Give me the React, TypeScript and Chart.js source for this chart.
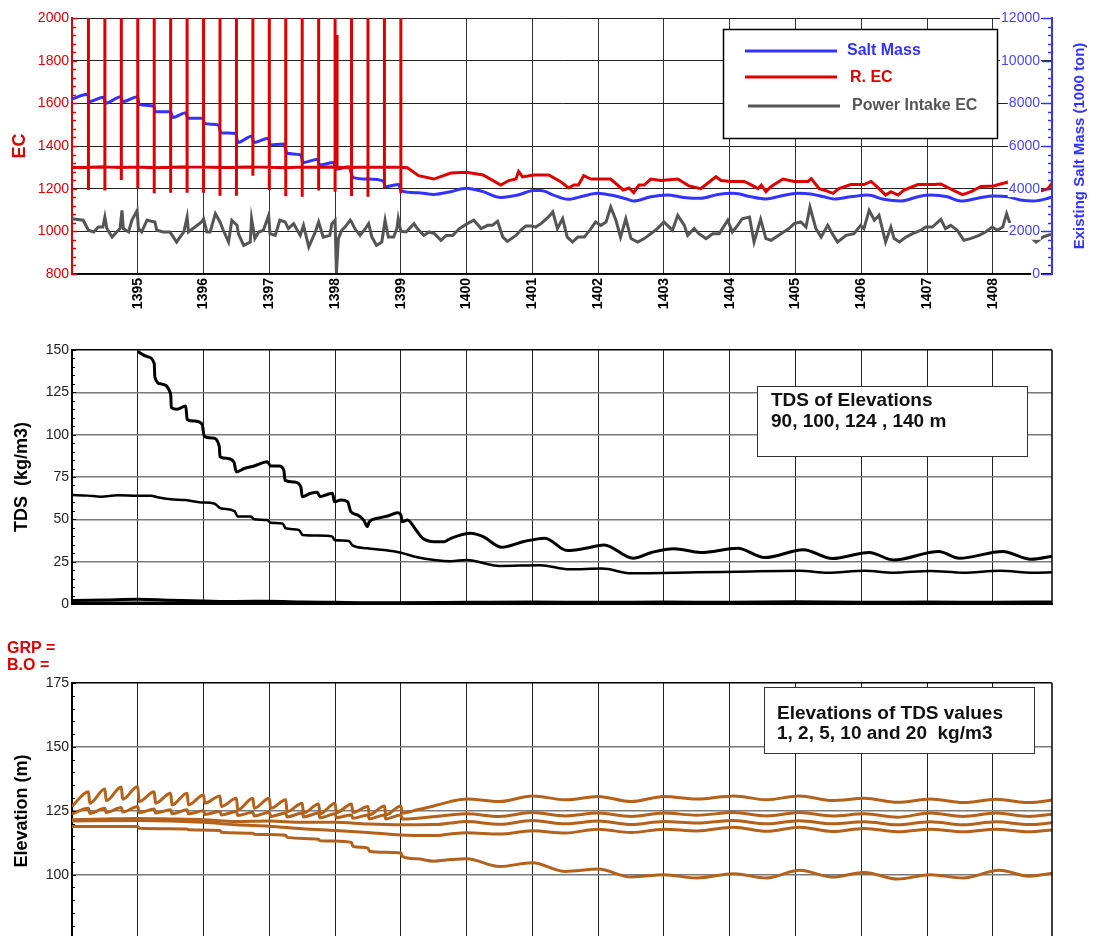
import React, { useEffect, useRef } from "react";
import { Chart, registerables } from "chart.js";

Chart.register(...registerables);

const FONT = '"Liberation Sans", Arial, Helvetica, sans-serif';
Chart.defaults.font.family = FONT;

// ---------- shared x axis (solar-hijri years) ----------
const YEAR_TICKS = [1395, 1396, 1397, 1398, 1399, 1400, 1401, 1402, 1403, 1404, 1405, 1406, 1407, 1408];
const X_MIN = 1394;
const X_MAX = 1408.9;

// ---------- top panel ----------
// Existing salt mass (1000 ton) – right axis
const SALT_MASS: [number, number][] = [
  [1394.0, 8200], [1394.24, 8420], [1394.26, 8080], [1394.48, 8280], [1394.51, 8000], [1394.74, 8310], [1394.77, 8080],
  [1395.0, 8310], [1395.02, 7950], [1395.24, 7880], [1395.27, 7610], [1395.5, 7600], [1395.53, 7340], [1395.73, 7560],
  [1395.76, 7300], [1395.99, 7300], [1396.01, 7060], [1396.23, 6980], [1396.26, 6620], [1396.49, 6590], [1396.52, 6160],
  [1396.74, 6470], [1396.76, 6160], [1396.99, 6360], [1397.01, 6050], [1397.22, 6090], [1397.27, 5660], [1397.48, 5580],
  [1397.51, 5220], [1397.74, 5380], [1397.76, 5110], [1397.98, 5230], [1398.01, 4910], [1398.21, 5030], [1398.27, 4530],
  [1398.5, 4450], [1398.73, 4360], [1398.77, 4090], [1398.97, 4200], [1399.0, 3910], [1399.26, 3810], [1399.5, 3730],
  [1399.76, 3860], [1399.99, 4020], [1400.25, 3860], [1400.52, 3590], [1400.78, 3700], [1401.02, 3910], [1401.13, 3910],
  [1401.32, 3700], [1401.54, 3500], [1401.78, 3660], [1401.99, 3780], [1402.19, 3700], [1402.45, 3500], [1402.54, 3420],
  [1402.8, 3620], [1403.05, 3700], [1403.3, 3590], [1403.56, 3550], [1403.82, 3730], [1404.06, 3780], [1404.32, 3620],
  [1404.55, 3520], [1404.78, 3660], [1405.04, 3780], [1405.23, 3750], [1405.43, 3620], [1405.59, 3520], [1405.84, 3620],
  [1406.1, 3700], [1406.34, 3500], [1406.6, 3420], [1406.86, 3620], [1407.05, 3700], [1407.31, 3620], [1407.51, 3420],
  [1407.77, 3550], [1408.01, 3660], [1408.23, 3620], [1408.42, 3470], [1408.62, 3420], [1408.84, 3550], [1408.91, 3620],
];

// R. EC – base line
const R_EC: [number, number][] = [
  [1394.0, 1299], [1394.25, 1300], [1394.5, 1302], [1394.75, 1299], [1395.0, 1301], [1395.25, 1298], [1395.5, 1300],
  [1395.75, 1302], [1396.0, 1301], [1396.25, 1299], [1396.5, 1300], [1396.75, 1302], [1397.0, 1300], [1397.25, 1298],
  [1397.5, 1301], [1397.75, 1300], [1398.0, 1302], [1398.03, 1300], [1398.25, 1299], [1398.5, 1301], [1398.75, 1300],
  [1399.0, 1300], [1399.1, 1298], [1399.27, 1261], [1399.5, 1245], [1399.76, 1273], [1400.0, 1277], [1400.25, 1264],
  [1400.52, 1217], [1400.64, 1238], [1400.75, 1245], [1400.79, 1281], [1400.85, 1255], [1401.02, 1264], [1401.25, 1264],
  [1401.43, 1233], [1401.55, 1203], [1401.63, 1217], [1401.7, 1217], [1401.78, 1261], [1401.89, 1245], [1402.19, 1245],
  [1402.27, 1224], [1402.38, 1194], [1402.47, 1203], [1402.54, 1181], [1402.62, 1217], [1402.7, 1217], [1402.8, 1245],
  [1402.95, 1238], [1403.21, 1245], [1403.38, 1213], [1403.56, 1200], [1403.79, 1256], [1403.87, 1238], [1404.02, 1234],
  [1404.22, 1234], [1404.32, 1219], [1404.43, 1200], [1404.48, 1217], [1404.55, 1186], [1404.63, 1210], [1404.81, 1245],
  [1404.98, 1234], [1405.19, 1234], [1405.24, 1247], [1405.36, 1200], [1405.46, 1191], [1405.57, 1178], [1405.66, 1200],
  [1405.84, 1219], [1406.04, 1219], [1406.15, 1234], [1406.25, 1206], [1406.37, 1170], [1406.45, 1186], [1406.56, 1170],
  [1406.65, 1193], [1406.86, 1219], [1407.11, 1219], [1407.21, 1222], [1407.41, 1191], [1407.54, 1172], [1407.67, 1186],
  [1407.82, 1210], [1408.01, 1213], [1408.23, 1231], [1408.27, 1210], [1408.58, 1175], [1408.84, 1200], [1408.91, 1231],
];

// R. EC – quarterly spikes: [time, high, low]
const R_EC_SPIKES: [number, number, number][] = [
  [1394.25, 2100, 1194], [1394.5, 2100, 1191], [1394.75, 2100, 1241], [1395.0, 2100, 1202], [1395.25, 2100, 1178],
  [1395.5, 2100, 1181], [1395.75, 2100, 1181], [1396.0, 2100, 1181], [1396.25, 2100, 1167], [1396.5, 2100, 1167],
  [1396.75, 2100, 1260], [1397.0, 2100, 1194], [1397.25, 2100, 1165], [1397.5, 2100, 1162], [1397.75, 2100, 1191],
  [1398.0, 2100, 1186], [1398.03, 1920, 1300], [1398.25, 2100, 1166], [1398.5, 2100, 1162], [1398.75, 2100, 1202],
  [1399.0, 2100, 1178],
];

// Power intake EC
const POWER_EC: [number, number][] = [
  [1394.0, 1059], [1394.17, 1052], [1394.25, 1005], [1394.33, 997], [1394.4, 1020], [1394.47, 1020], [1394.5, 1067],
  [1394.53, 1013], [1394.61, 973], [1394.68, 997], [1394.73, 1013], [1394.76, 1098], [1394.78, 1013], [1394.86, 997],
  [1394.91, 1052], [1394.99, 1098], [1395.01, 1013], [1395.06, 997], [1395.14, 1052], [1395.26, 1044], [1395.29, 1005],
  [1395.39, 997], [1395.49, 997], [1395.59, 950], [1395.7, 997], [1395.75, 1067], [1395.77, 997], [1395.87, 1020],
  [1395.97, 1044], [1396.0, 1059], [1396.05, 997], [1396.1, 997], [1396.18, 1083], [1396.25, 1044], [1396.3, 1005],
  [1396.38, 950], [1396.43, 1052], [1396.51, 1028], [1396.53, 989], [1396.61, 934], [1396.71, 950], [1396.73, 1059],
  [1396.78, 966], [1396.84, 997], [1396.91, 1005], [1396.99, 1075], [1397.01, 989], [1397.09, 981], [1397.16, 1052],
  [1397.24, 1044], [1397.29, 1013], [1397.37, 1036], [1397.47, 981], [1397.52, 1028], [1397.6, 927], [1397.7, 997],
  [1397.75, 1044], [1397.82, 973], [1397.92, 981], [1397.95, 1036], [1398.0, 1052], [1398.02, 805], [1398.05, 966],
  [1398.1, 1005], [1398.15, 1020], [1398.23, 1052], [1398.25, 1044], [1398.3, 1013], [1398.38, 981], [1398.46, 1013],
  [1398.51, 1036], [1398.56, 973], [1398.63, 934], [1398.71, 950], [1398.76, 1052], [1398.81, 973], [1398.89, 973],
  [1398.94, 1013], [1398.96, 1059], [1399.0, 1000], [1399.08, 997], [1399.2, 1036], [1399.25, 1013], [1399.35, 981],
  [1399.43, 997], [1399.51, 989], [1399.61, 958], [1399.69, 981], [1399.79, 981], [1399.89, 1013], [1400.01, 1036],
  [1400.11, 1052], [1400.22, 1013], [1400.32, 1028], [1400.39, 1028], [1400.47, 1047], [1400.55, 973], [1400.62, 953],
  [1400.75, 981], [1400.82, 1005], [1400.9, 1025], [1400.98, 1025], [1401.05, 1020], [1401.13, 1036], [1401.23, 1063],
  [1401.31, 1091], [1401.38, 1013], [1401.46, 1059], [1401.53, 973], [1401.61, 950], [1401.69, 973], [1401.79, 973],
  [1401.89, 1013], [1401.96, 1044], [1402.04, 1028], [1402.12, 1044], [1402.19, 1114], [1402.27, 1052], [1402.34, 973],
  [1402.42, 1059], [1402.5, 966], [1402.6, 950], [1402.7, 966], [1402.8, 989], [1402.9, 1013], [1403.0, 1044],
  [1403.08, 1020], [1403.13, 1005], [1403.21, 1075], [1403.31, 1028], [1403.36, 981], [1403.46, 1013], [1403.53, 989],
  [1403.64, 966], [1403.74, 989], [1403.84, 989], [1403.97, 1052], [1404.04, 997], [1404.12, 1028], [1404.19, 1059],
  [1404.3, 1067], [1404.37, 950], [1404.47, 1056], [1404.55, 966], [1404.63, 958], [1404.78, 989], [1404.9, 1013],
  [1404.98, 1036], [1405.08, 1044], [1405.16, 1020], [1405.22, 1114], [1405.31, 1013], [1405.39, 973], [1405.49, 1028],
  [1405.56, 989], [1405.64, 950], [1405.77, 981], [1405.89, 989], [1405.99, 1028], [1406.04, 1013], [1406.12, 1098],
  [1406.2, 1052], [1406.27, 1075], [1406.37, 950], [1406.45, 1020], [1406.5, 966], [1406.58, 950], [1406.68, 973],
  [1406.78, 989], [1406.91, 1005], [1406.98, 1020], [1407.08, 1020], [1407.21, 1056], [1407.28, 1013], [1407.36, 1028],
  [1407.46, 1005], [1407.56, 958], [1407.66, 966], [1407.79, 981], [1407.89, 997], [1407.99, 1020], [1408.07, 1005],
  [1408.15, 1020], [1408.21, 1083], [1408.27, 1028], [1408.58, 973], [1408.66, 950], [1408.76, 973], [1408.86, 984],
  [1408.93, 984],
];

// ---------- middle panel: TDS (kg/m3) at elevations ----------
const TDS_90: [number, number][] = [
  [1395.0, 149], [1395.15, 146], [1395.25, 142], [1395.26, 134], [1395.35, 130], [1395.5, 124], [1395.51, 116],
  [1395.6, 115], [1395.73, 117], [1395.75, 109], [1395.86, 108], [1395.98, 106], [1396.01, 99], [1396.14, 98],
  [1396.24, 93], [1396.25, 87], [1396.36, 86], [1396.46, 84], [1396.5, 78], [1396.62, 80], [1396.77, 81.5],
  [1396.97, 84], [1397.02, 81.5], [1397.15, 81.5], [1397.22, 79], [1397.24, 73], [1397.38, 72], [1397.48, 69],
  [1397.5, 63.4], [1397.63, 65.4], [1397.73, 66], [1397.77, 63.4], [1397.86, 64.4], [1397.96, 65.4], [1397.99, 60.4],
  [1398.09, 61.4], [1398.19, 60.4], [1398.24, 54.5], [1398.34, 52.6], [1398.44, 49.2], [1398.49, 45.7], [1398.52, 48.6],
  [1398.64, 50.6], [1398.8, 52], [1398.95, 53.9], [1399.0, 52.6], [1399.02, 48.6], [1399.1, 49.6], [1399.23, 43.7],
  [1399.33, 38.8], [1399.51, 36.8], [1399.66, 36.8], [1399.76, 38.8], [1400.06, 41.8], [1400.25, 39.8], [1400.53, 33.5],
  [1400.87, 36.9], [1401.19, 38.9], [1401.53, 31.6], [1401.81, 32.9], [1402.09, 34.9], [1402.53, 27.0], [1402.81, 30.4],
  [1403.15, 32.7], [1403.56, 30.4], [1404.12, 32.9], [1404.53, 27.4], [1405.12, 32.0], [1405.56, 26.8], [1406.12, 30.4],
  [1406.49, 26.0], [1407.18, 31.0], [1407.49, 27.0], [1408.15, 31.0], [1408.58, 26.4], [1408.93, 28.4],
];
const TDS_100: [number, number][] = [
  [1394.0, 64.4], [1394.24, 64.0], [1394.44, 63.4], [1394.69, 64.2], [1395.0, 64.0], [1395.2, 64.0], [1395.3, 63.0],
  [1395.5, 61.8], [1395.73, 61.4], [1395.96, 60.0], [1396.16, 59.4], [1396.26, 56.5], [1396.47, 54.9], [1396.52, 51.6],
  [1396.72, 51.6], [1396.77, 50.0], [1396.97, 49.6], [1397.02, 48.0], [1397.2, 47.6], [1397.25, 44.7], [1397.45, 43.7],
  [1397.51, 40.7], [1397.73, 40.4], [1397.96, 39.8], [1397.99, 37.8], [1398.21, 37.2], [1398.26, 34.8], [1398.49, 32.9],
  [1398.75, 31.9], [1399.0, 30.3], [1399.25, 27.6], [1399.51, 26.0], [1399.76, 25.3], [1400.0, 26.0], [1400.5, 22.5],
  [1401.12, 22.9], [1401.56, 20.5], [1402.06, 20.9], [1402.5, 18.1], [1403.5, 18.7], [1404.12, 19.1], [1405.06, 19.7],
  [1405.49, 18.5], [1406.05, 19.7], [1406.49, 18.5], [1407.05, 19.5], [1407.55, 18.5], [1408.11, 19.7], [1408.61, 18.5],
  [1408.93, 18.7],
];
const TDS_124: [number, number][] = [
  [1394.0, 2.0], [1394.5, 2.4], [1395.0, 2.8], [1395.5, 2.2], [1396.0, 1.8], [1396.5, 1.5], [1397.0, 1.6], [1397.5, 1.2],
  [1398.0, 1.0], [1398.5, 0.8], [1399.0, 0.8], [1400.0, 1.0], [1401.0, 1.2], [1402.0, 1.0], [1403.0, 1.2], [1404.0, 1.0],
  [1405.0, 1.3], [1406.0, 1.0], [1407.0, 1.2], [1408.0, 1.0], [1408.93, 1.2],
];
const TDS_140: [number, number][] = [
  [1394.0, 0.5], [1396.0, 0.4], [1398.0, 0.3], [1400.0, 0.3], [1402.0, 0.3], [1404.0, 0.3], [1406.0, 0.3], [1408.93, 0.3],
];

// ---------- bottom panel: elevation (m) of TDS values ----------
const ELEV_TDS1: [number, number][] = [
  [1394.0, 126.7], [1394.25, 132.5], [1394.27, 128.0], [1394.5, 133.5], [1394.52, 129.0], [1394.75, 134.3], [1394.77, 129.5],
  [1395.0, 134.5], [1395.02, 128.6], [1395.25, 132.5], [1395.27, 128.0], [1395.5, 131.9], [1395.52, 127.3], [1395.75, 131.9],
  [1395.77, 127.3], [1396.0, 131.2], [1396.02, 128.0], [1396.25, 130.8], [1396.27, 126.7], [1396.5, 129.9], [1396.52, 125.4],
  [1396.75, 129.9], [1396.77, 126.0], [1397.0, 129.9], [1397.02, 126.0], [1397.25, 129.3], [1397.27, 124.7], [1397.5, 128.0],
  [1397.52, 124.1], [1397.75, 127.7], [1397.77, 123.8], [1398.0, 128.0], [1398.02, 124.3], [1398.25, 127.7], [1398.27, 124.3],
  [1398.5, 126.7], [1398.52, 123.4], [1398.75, 126.9], [1398.77, 123.4], [1399.0, 126.9], [1399.02, 124.1], [1399.25, 125.4],
  [1399.5, 126.9], [1399.75, 128.6], [1400.0, 129.6], [1400.5, 128.6], [1401.0, 130.8], [1401.5, 129.3], [1402.0, 130.6],
  [1402.5, 128.6], [1403.0, 130.6], [1403.5, 129.6], [1404.06, 130.8], [1404.56, 129.3], [1405.06, 130.8], [1405.56, 129.0],
  [1406.05, 129.9], [1406.55, 128.3], [1407.05, 129.6], [1407.55, 128.2], [1408.05, 129.5], [1408.55, 128.2], [1408.93, 129.3],
];
const ELEV_TDS2: [number, number][] = [
  [1394.0, 123.8], [1394.25, 126.0], [1394.27, 124.0], [1394.5, 126.0], [1394.52, 124.3], [1394.75, 126.3], [1394.77, 124.5],
  [1395.0, 126.7], [1395.02, 124.3], [1395.25, 125.7], [1395.27, 124.1], [1395.5, 125.4], [1395.52, 123.8], [1395.75, 125.4],
  [1395.77, 123.8], [1396.0, 125.0], [1396.02, 123.6], [1396.25, 124.7], [1396.27, 123.4], [1396.5, 124.7], [1396.52, 123.2],
  [1396.75, 124.4], [1396.77, 123.0], [1397.0, 124.4], [1397.02, 122.8], [1397.25, 124.1], [1397.27, 122.6], [1397.5, 124.1],
  [1397.52, 122.6], [1397.75, 124.1], [1397.77, 122.3], [1398.0, 123.8], [1398.02, 122.3], [1398.25, 123.4], [1398.27, 122.1],
  [1398.5, 123.4], [1398.52, 121.8], [1398.75, 123.4], [1398.77, 121.8], [1399.0, 123.4], [1399.02, 121.8], [1399.75, 123.4],
  [1400.0, 123.8], [1400.5, 122.8], [1401.0, 124.3], [1401.5, 123.0], [1402.0, 124.1], [1402.5, 122.8], [1403.0, 124.1],
  [1403.5, 123.3], [1404.06, 124.3], [1404.56, 123.0], [1405.06, 124.3], [1405.56, 123.0], [1406.05, 123.8], [1406.55, 122.5],
  [1407.05, 124.1], [1407.55, 122.8], [1408.05, 124.1], [1408.55, 122.8], [1408.93, 123.7],
];
const ELEV_TDS5: [number, number][] = [
  [1394.0, 121.5], [1394.5, 121.8], [1395.0, 122.0], [1395.5, 121.8], [1396.0, 121.5], [1396.5, 120.8], [1397.0, 121.0],
  [1397.5, 120.5], [1398.0, 120.5], [1398.5, 119.8], [1399.0, 119.5], [1399.5, 119.6], [1399.75, 120.2], [1400.0, 120.8],
  [1400.5, 119.7], [1401.0, 121.2], [1401.5, 119.9], [1402.0, 121.0], [1402.5, 119.6], [1403.0, 120.8], [1403.5, 120.2],
  [1404.06, 121.2], [1404.56, 119.9], [1405.06, 121.1], [1405.56, 119.9], [1406.05, 120.7], [1406.55, 119.5], [1407.05, 120.7],
  [1407.55, 119.5], [1408.05, 120.7], [1408.55, 119.6], [1408.93, 120.4],
];
const ELEV_TDS10: [number, number][] = [
  [1394.0, 121.0], [1395.0, 121.2], [1396.0, 120.5], [1396.5, 119.5], [1397.0, 119.0], [1397.5, 118.0], [1398.0, 117.3],
  [1398.5, 116.5], [1399.0, 115.5], [1399.5, 115.3], [1399.75, 115.9], [1400.0, 116.4], [1400.5, 115.9], [1401.0, 117.2],
  [1401.5, 116.3], [1402.0, 117.8], [1402.5, 116.5], [1403.0, 117.8], [1403.5, 117.1], [1404.06, 118.6], [1404.56, 117.0],
  [1405.06, 118.6], [1405.56, 116.9], [1406.05, 118.1], [1406.55, 116.8], [1407.05, 117.8], [1407.55, 116.8], [1408.05, 117.8],
  [1408.55, 116.8], [1408.93, 117.6],
];
const ELEV_TDS20: [number, number][] = [
  [1394.0, 118.9], [1395.0, 118.9], [1395.02, 118.2], [1395.75, 117.9], [1395.77, 117.6], [1396.25, 117.3], [1396.27, 116.6],
  [1396.75, 116.2], [1396.77, 115.8], [1397.25, 115.4], [1397.27, 114.6], [1397.75, 113.9], [1397.77, 113.3], [1398.0, 113.2],
  [1398.25, 112.6], [1398.27, 111.1], [1398.5, 110.4], [1398.52, 109.2], [1398.75, 108.8], [1399.0, 108.5], [1399.02, 107.2],
  [1399.25, 106.2], [1399.5, 105.3], [1399.76, 105.9], [1400.0, 106.2], [1400.5, 103.2], [1401.0, 104.7], [1401.5, 101.3],
  [1402.0, 102.2], [1402.5, 99.1], [1403.0, 100.0], [1403.5, 98.7], [1404.06, 100.4], [1404.56, 98.7], [1405.06, 101.7],
  [1405.56, 99.1], [1406.05, 100.9], [1406.55, 98.3], [1407.05, 100.0], [1407.55, 98.7], [1408.1, 101.7], [1408.55, 99.4],
  [1408.93, 100.7],
];

// ---------- styles ----------
const RED = "#dd0000";
const BLUE = "#3333ff";
const BLUE_TXT = "#4646ff";
const GRAY = "#555555";
const BROWN = "#b4611b";

const pts = (arr: [number, number][]) => arr.map(([x, y]) => ({ x, y }));

function recPoints() {
  const out: { x: number; y: number }[] = [];
  for (const [t, v] of R_EC) {
    out.push({ x: t, y: v });
    const s = R_EC_SPIKES.find((k) => k[0] === t);
    if (s) {
      out.push({ x: t, y: s[1] });
      out.push({ x: t, y: s[2] });
      out.push({ x: t, y: v });
    }
  }
  return out;
}

// ---------- plugins ----------
const innerTicks = {
  id: "innerTicks",
  afterDatasetsDraw(chart: any, _a: any, opts: any) {
    const ctx = chart.ctx;
    const specs = opts.specs || [];
    ctx.save();
    for (const s of specs) {
      const sc = chart.scales[s.axis];
      if (!sc) continue;
      ctx.strokeStyle = s.color;
      ctx.lineWidth = s.width;
      const x0 = s.side === "left" ? chart.chartArea.left : chart.chartArea.right;
      const dir = s.side === "left" ? 1 : -1;
      const n = Math.round((s.max - s.min) / s.step);
      for (let i = 0; i <= n; i++) {
        const v = s.min + i * s.step;
        const isMajor = Math.abs(v / s.major - Math.round(v / s.major)) < 1e-6;
        const len = isMajor ? s.majorLen : s.minorLen;
        const y = Math.round(sc.getPixelForValue(v)) + 0.5;
        if (y < chart.chartArea.top - 1 || y > chart.chartArea.bottom + 1) continue;
        ctx.beginPath();
        ctx.moveTo(x0, y);
        ctx.lineTo(x0 + dir * len, y);
        ctx.stroke();
      }
    }
    ctx.restore();
  },
};

const overlay = {
  id: "overlay",
  afterDraw(chart: any, _a: any, opts: any) {
    const ctx = chart.ctx;
    const items = opts.items || [];
    for (const it of items) {
      ctx.save();
      if (it.kind === "box") {
        ctx.fillStyle = "#ffffff";
        ctx.fillRect(it.x, it.y, it.w, it.h);
        ctx.strokeStyle = it.color;
        ctx.lineWidth = it.lw;
        ctx.strokeRect(it.x + 0.5, it.y + 0.5, it.w, it.h);
      } else if (it.kind === "line") {
        ctx.strokeStyle = it.color;
        ctx.lineWidth = it.lw;
        ctx.beginPath();
        ctx.moveTo(it.x1, it.y1);
        ctx.lineTo(it.x2, it.y2);
        ctx.stroke();
      } else if (it.kind === "rightFrame") {
        const a = chart.chartArea;
        ctx.strokeStyle = it.color;
        ctx.lineWidth = it.lw;
        ctx.beginPath();
        ctx.moveTo(a.right, a.top);
        ctx.lineTo(a.right, a.bottom);
        ctx.stroke();
      } else if (it.kind === "text") {
        ctx.font = it.font;
        ctx.fillStyle = it.color;
        ctx.textAlign = it.align || "left";
        ctx.textBaseline = it.baseline || "middle";
        ctx.translate(it.x, it.y);
        if (it.rot) ctx.rotate(it.rot);
        ctx.fillText(it.text, 0, 0);
      }
      ctx.restore();
    }
  },
};

const xGridTicks = (s: any) => {
  s.ticks = YEAR_TICKS.map((v) => ({ value: v }));
};

function topConfig(): any {
  return {
    type: "line",
    data: {
      datasets: [
        { label: "R. EC", data: recPoints(), borderColor: RED, borderWidth: 3, pointRadius: 0, yAxisID: "y", tension: 0 },
        {
          label: "Salt Mass",
          data: pts(SALT_MASS),
          borderColor: BLUE,
          borderWidth: 3,
          pointRadius: 0,
          yAxisID: "y2",
          cubicInterpolationMode: "monotone",
        },
        { label: "Power Intake EC", data: pts(POWER_EC), borderColor: GRAY, borderWidth: 3, pointRadius: 0, yAxisID: "y", tension: 0 },
      ],
    },
    plugins: [innerTicks, overlay],
    options: {
      animation: false,
      responsive: false,
      maintainAspectRatio: false,
      events: [],
      layout: { padding: { top: 18, left: 0, right: 0, bottom: 0 } },
      plugins: {
        legend: { display: false },
        tooltip: { enabled: false },
        innerTicks: {
          specs: [
            { axis: "y", side: "left", min: 800, max: 2000, step: 40, major: 200, minorLen: 4, majorLen: 5, color: RED, width: 1.5 },
            { axis: "y2", side: "right", min: 0, max: 12000, step: 400, major: 2000, minorLen: 4, majorLen: 10, color: BLUE, width: 1.5 },
          ],
        },
        overlay: {
          items: [
            { kind: "box", x: 723, y: 29, w: 274, h: 109, color: "#000", lw: 1.5 },
            { kind: "line", x1: 745, y1: 51, x2: 837, y2: 51, color: BLUE, lw: 3 },
            { kind: "text", text: "Salt Mass", x: 847, y: 51, font: `bold 16px ${FONT}`, color: BLUE },
            { kind: "line", x1: 745, y1: 77, x2: 837, y2: 77, color: RED, lw: 3 },
            { kind: "text", text: "R. EC", x: 850, y: 78, font: `bold 16px ${FONT}`, color: RED },
            { kind: "line", x1: 748, y1: 106, x2: 840, y2: 106, color: GRAY, lw: 3 },
            { kind: "text", text: "Power Intake EC", x: 852, y: 106, font: `bold 16px ${FONT}`, color: GRAY },
            { kind: "text", text: "EC", x: 20, y: 146, rot: -Math.PI / 2, align: "center", font: `bold 18px ${FONT}`, color: RED },
            {
              kind: "text",
              text: "Existing Salt Mass (1000 ton)",
              x: 1080,
              y: 146,
              rot: -Math.PI / 2,
              align: "center",
              font: `bold 15px ${FONT}`,
              color: BLUE,
            },
          ],
        },
      },
      scales: {
        x: {
          type: "linear",
          min: X_MIN,
          max: X_MAX,
          afterBuildTicks: xGridTicks,
          afterFit: (s: any) => {
            s.height = 46;
          },
          grid: { color: "#333", lineWidth: 1, drawTicks: false },
          border: { color: "#000", width: 1.5 },
          ticks: {
            autoSkip: false,
            minRotation: 90,
            maxRotation: 90,
            padding: 4,
            color: "#000",
            font: { size: 14, weight: "bold", family: FONT },
            callback: (v: any) => String(v),
          },
        },
        y: {
          position: "left",
          min: 800,
          max: 2000,
          afterFit: (s: any) => {
            s.width = 72;
          },
          ticks: { stepSize: 200, color: RED, padding: 3, font: { size: 14, family: FONT }, callback: (v: any) => String(v) },
          grid: { color: "#222", lineWidth: 1, drawTicks: false },
          border: { color: RED, width: 2 },
        },
        y2: {
          position: "right",
          min: 0,
          max: 12000,
          afterFit: (s: any) => {
            s.width = 41;
          },
          ticks: {
            stepSize: 2000,
            mirror: true,
            padding: -12,
            color: BLUE_TXT,
            font: { size: 14, family: FONT },
            showLabelBackdrop: true,
            backdropColor: "#ffffff",
            backdropPadding: { top: 0, bottom: 0, left: 1, right: 1 },
            z: 1,
            callback: (v: any) => String(v),
          },
          grid: { display: false, drawTicks: false },
          border: { color: BLUE, width: 2 },
        },
      },
    },
  };
}

function lowerConfig(kind: "tds" | "elev"): any {
  const isTds = kind === "tds";
  const datasets = isTds
    ? [
        { label: "90 m", data: pts(TDS_90), borderColor: "#000", borderWidth: 3, pointRadius: 0, cubicInterpolationMode: "monotone" },
        { label: "100 m", data: pts(TDS_100), borderColor: "#000", borderWidth: 2.5, pointRadius: 0, cubicInterpolationMode: "monotone" },
        { label: "124 m", data: pts(TDS_124), borderColor: "#000", borderWidth: 3, pointRadius: 0, cubicInterpolationMode: "monotone" },
        { label: "140 m", data: pts(TDS_140), borderColor: "#000", borderWidth: 3.5, pointRadius: 0, cubicInterpolationMode: "monotone" },
      ]
    : [ELEV_TDS1, ELEV_TDS2, ELEV_TDS5, ELEV_TDS10, ELEV_TDS20].map((a, i) => ({
        label: ["1", "2", "5", "10", "20"][i] + " kg/m3",
        data: pts(a),
        borderColor: BROWN,
        borderWidth: 3,
        pointRadius: 0,
        cubicInterpolationMode: "monotone",
      }));

  const yMin = isTds ? 0 : 75;
  const yMax = isTds ? 150 : 175;
  const items = isTds
    ? [
        { kind: "rightFrame", color: "#000", lw: 1.5 },
        { kind: "box", x: 757, y: 56, w: 270, h: 70, color: "#333", lw: 1 },
        { kind: "text", text: "TDS of Elevations", x: 771, y: 71, font: `bold 19px ${FONT}`, color: "#111" },
        { kind: "text", text: "90, 100, 124 , 140 m", x: 771, y: 92, font: `bold 19px ${FONT}`, color: "#111" },
        { kind: "text", text: "TDS  (kg/m3)", x: 22, y: 147, rot: -Math.PI / 2, align: "center", font: `bold 18px ${FONT}`, color: "#000" },
      ]
    : [
        { kind: "rightFrame", color: "#000", lw: 1.5 },
        { kind: "text", text: "GRP =", x: 7, y: 19, font: `bold 16px ${FONT}`, color: RED },
        { kind: "text", text: "B.O =", x: 7, y: 36, font: `bold 16px ${FONT}`, color: RED },
        { kind: "box", x: 764, y: 57, w: 270, h: 66, color: "#333", lw: 1 },
        { kind: "text", text: "Elevations of TDS values", x: 777, y: 84, font: `bold 19px ${FONT}`, color: "#111" },
        { kind: "text", text: "1, 2, 5, 10 and 20  kg/m3", x: 777, y: 104, font: `bold 19px ${FONT}`, color: "#111" },
        { kind: "text", text: "Elevation (m)", x: 22, y: 181, rot: -Math.PI / 2, align: "center", font: `bold 18px ${FONT}`, color: "#000" },
      ];

  return {
    type: "line",
    data: { datasets },
    plugins: [innerTicks, overlay],
    options: {
      animation: false,
      responsive: false,
      maintainAspectRatio: false,
      events: [],
      layout: { padding: { top: isTds ? 20 : 53, left: 0, right: 41, bottom: 0 } },
      plugins: {
        legend: { display: false },
        tooltip: { enabled: false },
        innerTicks: {
          specs: [{ axis: "y", side: "left", min: yMin, max: yMax, step: 5, major: 25, minorLen: 3, majorLen: 4, color: "#000", width: 1 }],
        },
        overlay: { items },
      },
      scales: {
        x: {
          type: "linear",
          min: X_MIN,
          max: X_MAX,
          afterBuildTicks: xGridTicks,
          afterFit: (s: any) => {
            s.height = isTds ? 26 : 11;
          },
          grid: { color: "#222", lineWidth: 1, drawTicks: false },
          border: { color: "#000", width: 2 },
          ticks: { display: false },
        },
        y: {
          position: "left",
          min: yMin,
          max: yMax,
          afterFit: (s: any) => {
            s.width = 72;
          },
          ticks: {
            stepSize: 25,
            color: "#222",
            padding: 3,
            font: { size: 14, family: FONT },
            callback: (v: any) => (!isTds && v < 100 ? "" : String(v)),
          },
          grid: {
            drawTicks: false,
            lineWidth: 1.5,
            color: (c: any) => (c.tick && c.tick.value === yMax ? "#000" : "#7a7a7a"),
          },
          border: { color: "#000", width: 2 },
        },
      },
    },
  };
}

export default function App() {
  const topRef = useRef<HTMLCanvasElement>(null);
  const midRef = useRef<HTMLCanvasElement>(null);
  const botRef = useRef<HTMLCanvasElement>(null);

  useEffect(() => {
    const charts: Chart[] = [];
    if (topRef.current) charts.push(new Chart(topRef.current, topConfig()));
    if (midRef.current) charts.push(new Chart(midRef.current, lowerConfig("tds")));
    if (botRef.current) charts.push(new Chart(botRef.current, lowerConfig("elev")));
    return () => charts.forEach((c) => c.destroy());
  }, []);

  const cv = (top: number, h: number): React.CSSProperties => ({
    position: "absolute",
    left: 0,
    top,
    width: 1093,
    height: h,
    display: "block",
  });

  return (
    <div
      style={{
        position: "fixed",
        left: 0,
        top: 0,
        width: 1093,
        height: 936,
        overflow: "hidden",
        background: "#ffffff",
      }}
    >
      <canvas ref={topRef} width={1093} height={320} style={cv(0, 320)} />
      <canvas ref={midRef} width={1093} height={300} style={cv(330, 300)} />
      <canvas ref={botRef} width={1093} height={320} style={cv(630, 320)} />
    </div>
  );
}
